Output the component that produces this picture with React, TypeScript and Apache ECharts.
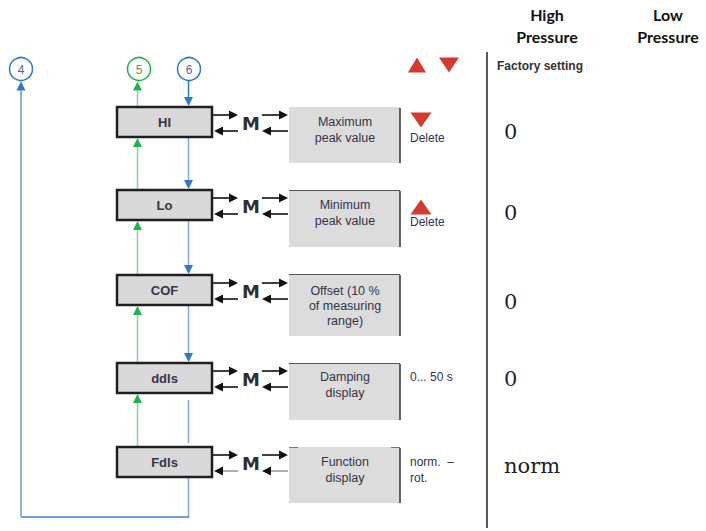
import React, { useEffect, useRef } from "react";
import * as echarts from "echarts";

// ---- content ----
const menuItems = ["HI", "Lo", "COF", "ddls", "Fdls"];
const descriptions = [
  "Maximum\npeak value",
  "Minimum\npeak value",
  "Offset (10 %\nof measuring\nrange)",
  "Damping\ndisplay",
  "Function\ndisplay",
];
const optionTexts = ["Delete", "Delete", "", "0... 50 s", "norm.  –\nrot."];
const optionMarkers = ["down", "up", "", "", ""];
const factorySettings = ["0", "0", "0", "0", "norm"];
const headers = ["High\nPressure", "Low\nPressure"];
const connectors = ["4", "5", "6"];
const factoryTitle = "Factory setting";

// ---- layout ----
const BOX_X = 117;
const BOX_W = 95;
const BOX_H = 30;
const boxTop = [107, 190, 275, 363, 447];
const descTop = [107, 190, 274, 363, 447];
const descH = [56, 57, 62, 57, 56];
const descTextY = [130, 213, 306, 385, 470];
const optionY = [138, 222, 0, 377, 470];
const markerY = [120, 207];
const settingY = [132, 213, 302, 379, 466];
const GREEN_X = 137.5;
const BLUE_X = 188.5;
const LEFT_X = 21;
const BOTTOM_Y = 517;
const CIRCLE_Y = 69;
const CIRCLE_R = 11.5;
const circleX = [21, 139, 189];

const BLUE_LINE = "#7ea9de";
const BLUE_HEAD = "#2a78d0";
const GREEN_LINE = "#86d49a";
const GREEN_HEAD = "#21b14b";
const RED = "#d23b2e";
const TEXT = "#33334a";

function arrow(
  x1: number, y1: number, x2: number, y2: number,
  lineColor: string, headColor: string, width = 1.5, headLen = 9, headHalf = 4.5
): any[] {
  const dx = x2 - x1;
  const dy = y2 - y1;
  const len = Math.sqrt(dx * dx + dy * dy);
  const ux = dx / len;
  const uy = dy / len;
  const bx = x2 - ux * headLen;
  const by = y2 - uy * headLen;
  const px = -uy;
  const py = ux;
  return [
    { type: "line", shape: { x1, y1, x2: bx, y2: by }, style: { stroke: lineColor, lineWidth: width }, silent: true },
    {
      type: "polygon",
      shape: { points: [[x2, y2], [bx + px * headHalf, by + py * headHalf], [bx - px * headHalf, by - py * headHalf]] },
      style: { fill: headColor },
      silent: true,
    },
  ];
}

function line(x1: number, y1: number, x2: number, y2: number, color: string, width = 1.5): any {
  return { type: "line", shape: { x1, y1, x2, y2 }, style: { stroke: color, lineWidth: width }, silent: true };
}

function text(t: string, x: number, y: number, size: number, opts: any = {}): any {
  return {
    type: "text",
    x,
    y,
    style: {
      text: t,
      fontSize: size,
      fontFamily: opts.family || "'Liberation Sans', Arial, sans-serif",
      fontWeight: opts.weight || "normal",
      fill: opts.color || TEXT,
      align: opts.align || "left",
      textAlign: opts.align || "left",
      verticalAlign: "middle",
      textVerticalAlign: "middle",
      lineHeight: opts.lineHeight || size * 1.25,
    },
    silent: true,
  };
}

function triangle(cx: number, cy: number, w: number, h: number, dir: "up" | "down"): any {
  const pts = dir === "up"
    ? [[cx - w / 2, cy + h / 2], [cx + w / 2, cy + h / 2], [cx, cy - h / 2]]
    : [[cx - w / 2, cy - h / 2], [cx + w / 2, cy - h / 2], [cx, cy + h / 2]];
  return { type: "polygon", shape: { points: pts }, style: { fill: RED }, silent: true };
}

function buildOption(): any {
  const els: any[] = [];

  // headers
  const headerX = [547, 668];
  headers.forEach((h, i) => {
    els.push(text(h, headerX[i], 25, 16, { weight: "bold", align: "center", color: "#111", family: "Lato, 'Open Sans', sans-serif", lineHeight: 22 }));
  });

  // top red triangles
  els.push(triangle(417, 65, 18, 15, "up"));
  els.push(triangle(449, 65, 20, 15, "down"));

  // separator
  els.push(line(487, 52, 487, 528, "#222", 1.5));
  els.push(text(factoryTitle, 497, 66, 12, { weight: "bold", color: "#333" }));

  // connector circles
  const circleColors = [BLUE_HEAD, GREEN_HEAD, BLUE_HEAD];
  connectors.forEach((c, i) => {
    els.push({
      type: "circle",
      shape: { cx: circleX[i], cy: CIRCLE_Y, r: CIRCLE_R },
      style: { fill: "#fff", stroke: circleColors[i], lineWidth: 1.5 },
      silent: true,
    });
    els.push(text(c, circleX[i], CIRCLE_Y + 0.5, 12, { align: "center", color: i === 1 ? "#6a9a40" : "#4a5fa8" }));
  });

  // left return line (from Fdls bottom back to 4)
  els.push(line(BLUE_X, boxTop[4] + BOX_H, BLUE_X, BOTTOM_Y, BLUE_LINE, 1.5));
  els.push(line(LEFT_X, BOTTOM_Y, BLUE_X + 0.75, BOTTOM_Y, "#3d7fd0", 1.5));
  els.push(...arrow(LEFT_X, BOTTOM_Y, LEFT_X, CIRCLE_Y + CIRCLE_R + 1, BLUE_LINE, BLUE_HEAD, 1.8));

  // green up arrows
  els.push(...arrow(GREEN_X, boxTop[0], GREEN_X, CIRCLE_Y + CIRCLE_R + 1, GREEN_LINE, GREEN_HEAD));
  for (let i = 1; i < menuItems.length; i++) {
    els.push(...arrow(GREEN_X, boxTop[i], GREEN_X, boxTop[i - 1] + BOX_H + 1, GREEN_LINE, GREEN_HEAD));
  }
  // blue down arrows
  els.push(...arrow(BLUE_X, CIRCLE_Y + CIRCLE_R, BLUE_X, boxTop[0] - 1, BLUE_HEAD, BLUE_HEAD));
  for (let i = 1; i < menuItems.length - 1; i++) {
    els.push(...arrow(BLUE_X, boxTop[i - 1] + BOX_H, BLUE_X, boxTop[i] - 1, BLUE_LINE, BLUE_HEAD));
  }
  // ddls -> Fdls: broken line, no arrow
  els.push(line(BLUE_X, boxTop[3] + BOX_H + 7, BLUE_X, boxTop[4] - 4, BLUE_LINE, 1.5));

  // menu boxes, M arrows, descriptions, options, settings
  menuItems.forEach((m, i) => {
    const top = boxTop[i];
    // shadow (thicker dark edge at left/bottom)
    els.push({
      type: "rect",
      shape: { x: BOX_X - 1, y: top + 1, width: BOX_W, height: BOX_H },
      style: { fill: "#1e1e1e" },
      silent: true,
    });
    els.push({
      type: "rect",
      shape: { x: BOX_X, y: top, width: BOX_W, height: BOX_H },
      style: { fill: "#d9d9d9", stroke: "#1e1e1e", lineWidth: 2.5 },
      silent: true,
    });
    els.push(text(m, BOX_X + BOX_W / 2, top + BOX_H / 2 + 0.5, 13, { weight: "bold", align: "center", color: "#34344a" }));

    const yA = top + 8;
    const yB = top + 24;
    const backLine = i === 4 ? "#9a9a9a" : "#111";
    els.push(...arrow(213, yA, 238, yA, "#111", "#111", 1.6, 9, 4.5));
    els.push(...arrow(238, yB, 214, yB, backLine, "#111", 1.6, 9, 4.5));
    els.push(text("M", 251, top + 16.5, 18, { weight: "bold", align: "center", color: "#2e2e2e", family: "'DejaVu Sans', sans-serif" }));
    els.push(...arrow(262, yA, 288, yA, "#111", "#111", 1.6, 9, 4.5));
    els.push(...arrow(288, yB, 262, yB, backLine, "#111", 1.6, 9, 4.5));

    // description box
    els.push({
      type: "rect",
      shape: { x: 289, y: descTop[i], width: 111, height: descH[i] },
      style: { fill: "#dcdcdc" },
      silent: true,
    });
    els.push(line(400, descTop[i] + 1, 400, descTop[i] + descH[i], "#333", 1.5));
    if (i >= 1 && i <= 3) {
      els.push(line(289, descTop[i] + 0.5, 400, descTop[i] + 0.5, "#555", 1));
    }
    if (i === 4) {
      els.push(line(289, descTop[i] + 0.5, 298, descTop[i] + 0.5, "#777", 1));
      els.push(line(391, descTop[i] + 0.5, 400, descTop[i] + 0.5, "#777", 1));
    }
    const lines = descriptions[i].split("\n").length;
    els.push(text(descriptions[i], 345, descTextY[i], 12.5, { align: "center", color: TEXT, lineHeight: lines === 3 ? 15 : 16 }));

    // option text & markers
    if (optionMarkers[i]) {
      els.push(triangle(421, markerY[i], 21, 15, optionMarkers[i] as any));
    }
    if (optionTexts[i]) {
      const ly = optionTexts[i].includes("\n") ? 16 : 15;
      els.push(text(optionTexts[i], 410, optionY[i], 12, { color: TEXT, lineHeight: ly }));
    }

    // factory setting
    els.push(text(factorySettings[i], 504, settingY[i], 21, { color: "#1e1e2e", family: "'DejaVu Serif', serif" }));
  });

  return { animation: false, backgroundColor: "#fff", graphic: { elements: els } };
}

export default function App() {
  const ref = useRef<HTMLDivElement>(null);
  useEffect(() => {
    if (!ref.current) return;
    const chart = echarts.init(ref.current, null, { renderer: "svg" });
    chart.setOption(buildOption());
    return () => chart.dispose();
  }, []);
  return (
    <div
      ref={ref}
      style={{ position: "absolute", left: 0, top: 0, width: 706, height: 531, background: "#fff" }}
    />
  );
}
